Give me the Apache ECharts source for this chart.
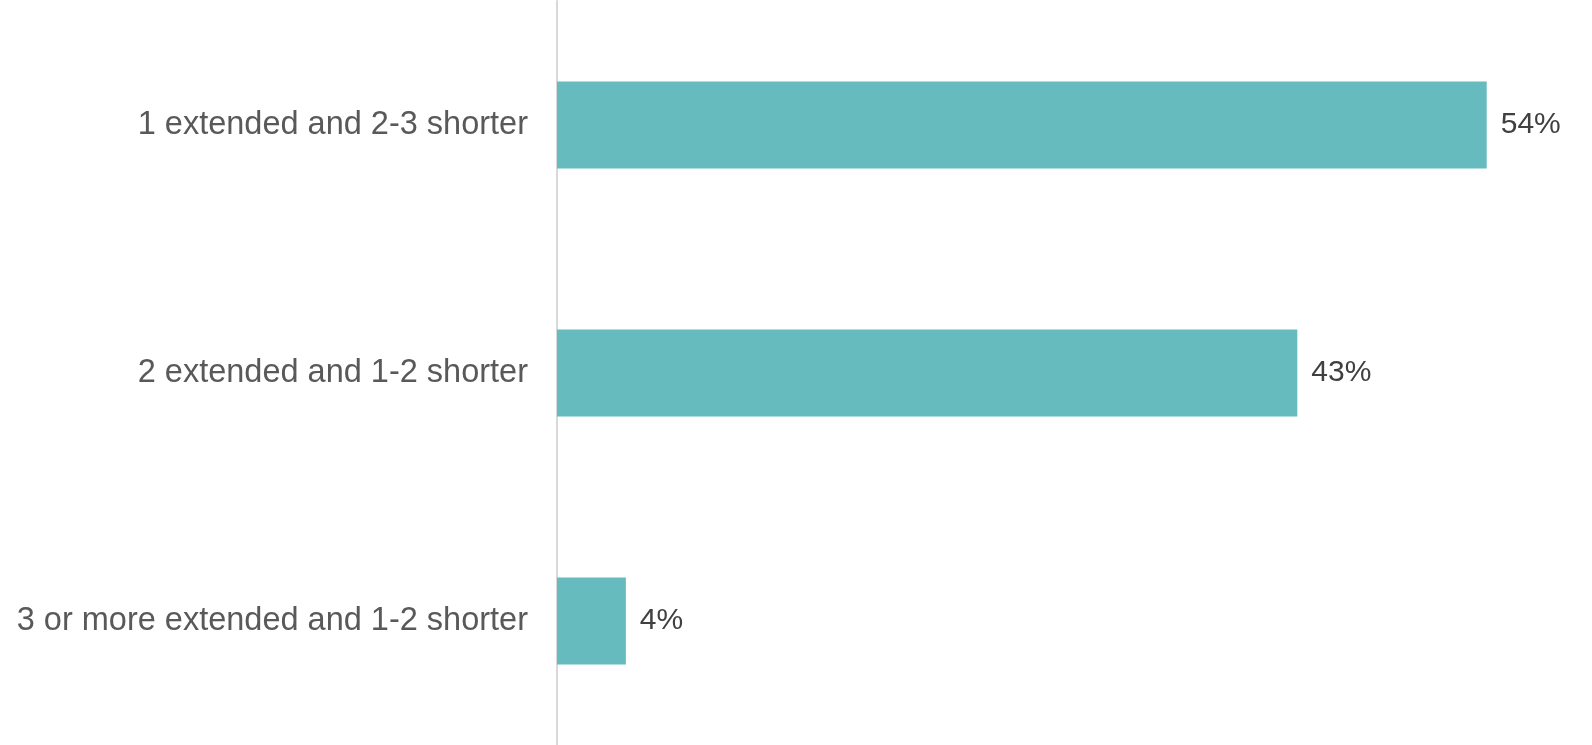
<!DOCTYPE html>
<html>
<head>
<meta charset="utf-8">
<script src="https://cdn.jsdelivr.net/npm/echarts@6/dist/echarts.min.js"></script>
<style>
  html, body { margin: 0; padding: 0; background: #ffffff; }
  #chart { width: 1592px; height: 745px; }
</style>
</head>
<body>
<div id="chart"></div>
<script>
// Share of respondents by mix of extended and shorter items
const categories = [
  '1 extended and 2-3 shorter',
  '2 extended and 1-2 shorter',
  '3 or more extended and 1-2 shorter'
];
const shares = [54, 43, 4];

const chart = echarts.init(document.getElementById('chart'));
chart.setOption({
  animation: false,
  grid: { left: 557, top: 1, width: 1033, height: 748, containLabel: false },
  xAxis: {
    type: 'value',
    min: 0,
    max: 60,
    show: false
  },
  yAxis: {
    type: 'category',
    data: categories,
    inverse: true,
    axisLine: { show: true, lineStyle: { color: '#d9d9d9', width: 2 } },
    axisTick: { show: false },
    axisLabel: {
      margin: 29,
      color: '#595959',
      fontFamily: 'Liberation Sans, Arial, sans-serif',
      fontSize: 32.5
    }
  },
  series: [{
    type: 'bar',
    data: shares,
    barWidth: '35%',
    itemStyle: { color: '#65bbbe' },
    label: {
      show: true,
      position: 'right',
      distance: 14,
      color: '#404040',
      fontFamily: 'Liberation Sans, Arial, sans-serif',
      fontSize: 30,
      formatter: p => p.value + '%'
    }
  }]
});
</script>
</body>
</html>
